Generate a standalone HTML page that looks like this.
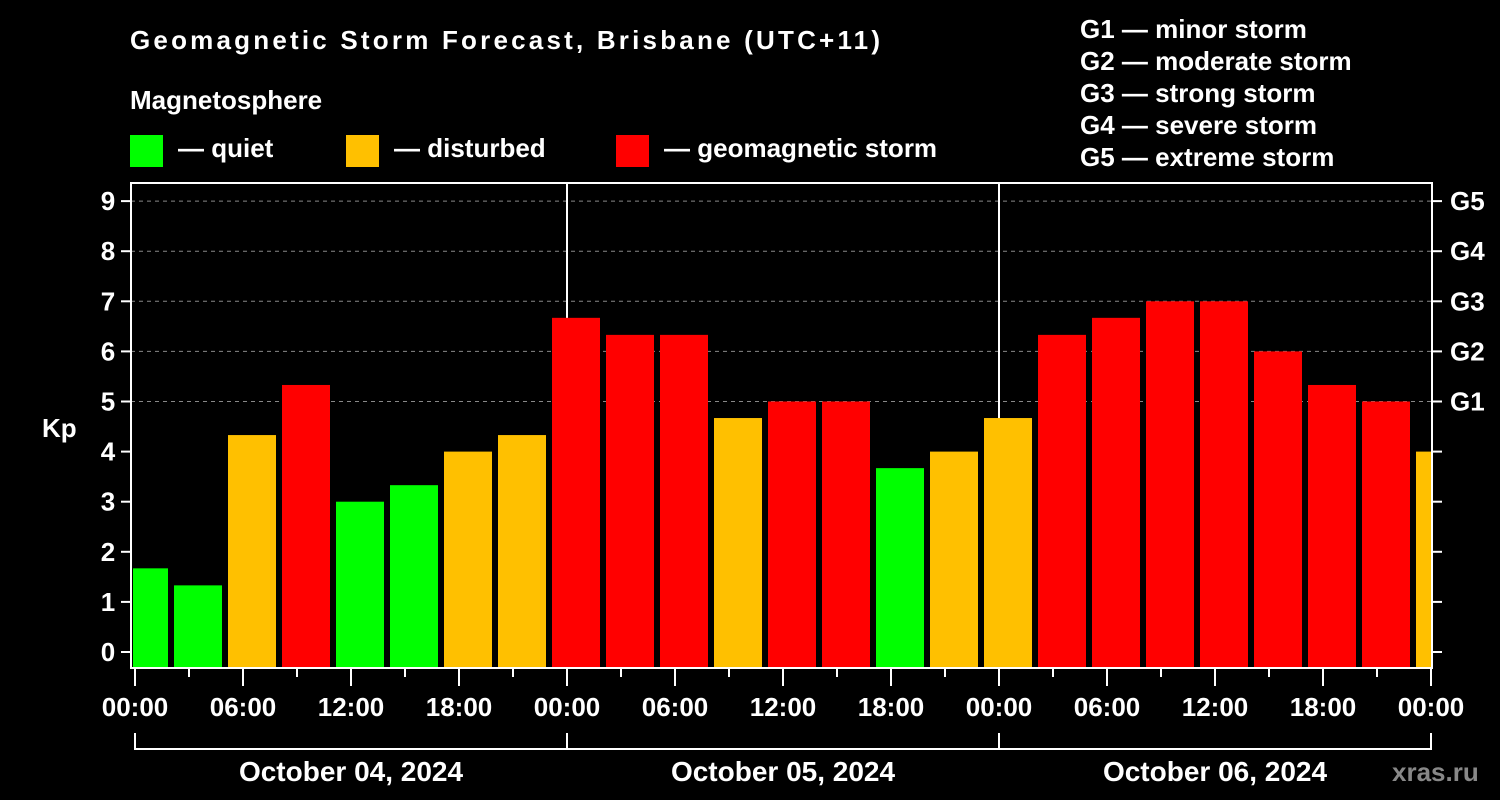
<!DOCTYPE html>
<html><head><meta charset="utf-8"><style>
html,body{margin:0;padding:0;background:#000;}
svg{display:block;font-family:"Liberation Sans",Arial,sans-serif;font-weight:bold;}
</style></head><body>
<svg id="chart" width="1500" height="800" viewBox="0 0 1500 800" xmlns="http://www.w3.org/2000/svg">
<rect x="0" y="0" width="1500" height="800" fill="#000"/>
<text x="130" y="49" fill="#fff" font-size="26" textLength="750">Geomagnetic Storm Forecast, Brisbane (UTC+11)</text>
<text x="130" y="109" fill="#fff" font-size="26">Magnetosphere</text>
<g><rect x="130" y="135" width="33" height="32" fill="#00ff00"/><text x="178" y="157" fill="#fff" font-size="26">— quiet</text></g>
<g><rect x="346" y="135" width="33" height="32" fill="#ffc000"/><text x="394" y="157" fill="#fff" font-size="26">— disturbed</text></g>
<g><rect x="616" y="135" width="33" height="32" fill="#ff0000"/><text x="664" y="157" fill="#fff" font-size="26">— geomagnetic storm</text></g>
<g fill="#fff" font-size="26">
<text x="1080" y="38">G1 — minor storm</text>
<text x="1080" y="70">G2 — moderate storm</text>
<text x="1080" y="102">G3 — strong storm</text>
<text x="1080" y="134">G4 — severe storm</text>
<text x="1080" y="166">G5 — extreme storm</text>
</g>
<text x="42" y="437" fill="#fff" font-size="26">Kp</text>
<text x="1392" y="781" fill="#888" font-size="26">xras.ru</text>
<defs><clipPath id="plotclip"><rect x="133" y="183" width="1298" height="485"/></clipPath></defs>
<g id="grid"></g>
<g id="bars" clip-path="url(#plotclip)"></g>
<g id="axes"></g>
</svg>
<script>
const kpValues = [1.67,1.33,4.33,5.33,3,3.33,4,4.33,6.67,6.33,6.33,4.67,5,5,3.67,4,4.67,6.33,6.67,7,7,6,5.33,5,4];
const yTicks = [0,1,2,3,4,5,6,7,8,9];
const gLabels = ["G1","G2","G3","G4","G5"];
const xTickLabels = ["00:00","06:00","12:00","18:00","00:00","06:00","12:00","18:00","00:00","06:00","12:00","18:00","00:00"];
const dayLabels = ["October 04, 2024","October 05, 2024","October 06, 2024"];

const NS="http://www.w3.org/2000/svg";
const X0=135, PXH=18, Y0=652, PXK=50.1, LEFT=131, RIGHT=1432, TOP=183, BOTTOM=668;
const xs=h=>X0+h*PXH;
const ys=v=>Y0-v*PXK;
function mk(tag,attrs,parent){const e=document.createElementNS(NS,tag);for(const k in attrs)e.setAttribute(k,attrs[k]);parent.appendChild(e);return e;}
const grid=document.getElementById('grid'),bars=document.getElementById('bars'),axes=document.getElementById('axes');
// grid
yTicks.forEach(v=>{if(v<5)return;const l=mk('line',{x1:LEFT,x2:RIGHT,y1:ys(v),y2:ys(v),stroke:'#888','stroke-width':1,'stroke-dasharray':'4,4'},grid);

});
// day separators
[24,48].forEach(h=>{const l=mk('line',{x1:xs(h),x2:xs(h),y1:TOP,y2:BOTTOM,stroke:'#fff','stroke-width':2},grid);

});
// bars
kpValues.forEach((v,i)=>{const c=xs(0.5+3*i);const col=v<3.9?'#00ff00':(v<4.95?'#ffc000':'#ff0000');
const r=mk('rect',{x:c-24,y:ys(v),width:48,height:BOTTOM-ys(v),fill:col},bars);

});
// frame
const f=mk('rect',{x:LEFT,y:TOP,width:RIGHT-LEFT,height:BOTTOM-TOP,fill:'none',stroke:'#fff','stroke-width':2},axes);


// y ticks
yTicks.forEach(v=>{const y=ys(v);
mk('line',{x1:LEFT-10,x2:LEFT,y1:y,y2:y,stroke:'#fff','stroke-width':2},axes);
mk('line',{x1:RIGHT,x2:RIGHT+10,y1:y,y2:y,stroke:'#fff','stroke-width':2},axes);
const t=mk('text',{x:108,y:y+9,fill:'#fff','font-size':26,'text-anchor':'middle'},axes);t.textContent=v;

});
gLabels.forEach((g,i)=>{const t=mk('text',{x:1450,y:ys(5+i)+9,fill:'#fff','font-size':26},axes);t.textContent=g;

});
// x ticks
for(let h=0;h<=72;h+=3){const long=h%6===0;mk('line',{x1:xs(h),x2:xs(h),y1:BOTTOM,y2:BOTTOM+(long?18:9),stroke:'#fff','stroke-width':2},axes);}
xTickLabels.forEach((s,i)=>{const t=mk('text',{x:xs(i*6),y:716,fill:'#fff','font-size':26,'text-anchor':'middle'},axes);t.textContent=s;

});
// day bracket
mk('line',{x1:xs(0),x2:xs(72),y1:749,y2:749,stroke:'#fff','stroke-width':2},axes);
[0,24,48,72].forEach(h=>mk('line',{x1:xs(h),x2:xs(h),y1:733,y2:750,stroke:'#fff','stroke-width':2},axes));
dayLabels.forEach((s,i)=>{const t=mk('text',{x:xs(12+24*i),y:781,fill:'#fff','font-size':28,'text-anchor':'middle'},axes);t.textContent=s;

});
</script>
</body></html>
